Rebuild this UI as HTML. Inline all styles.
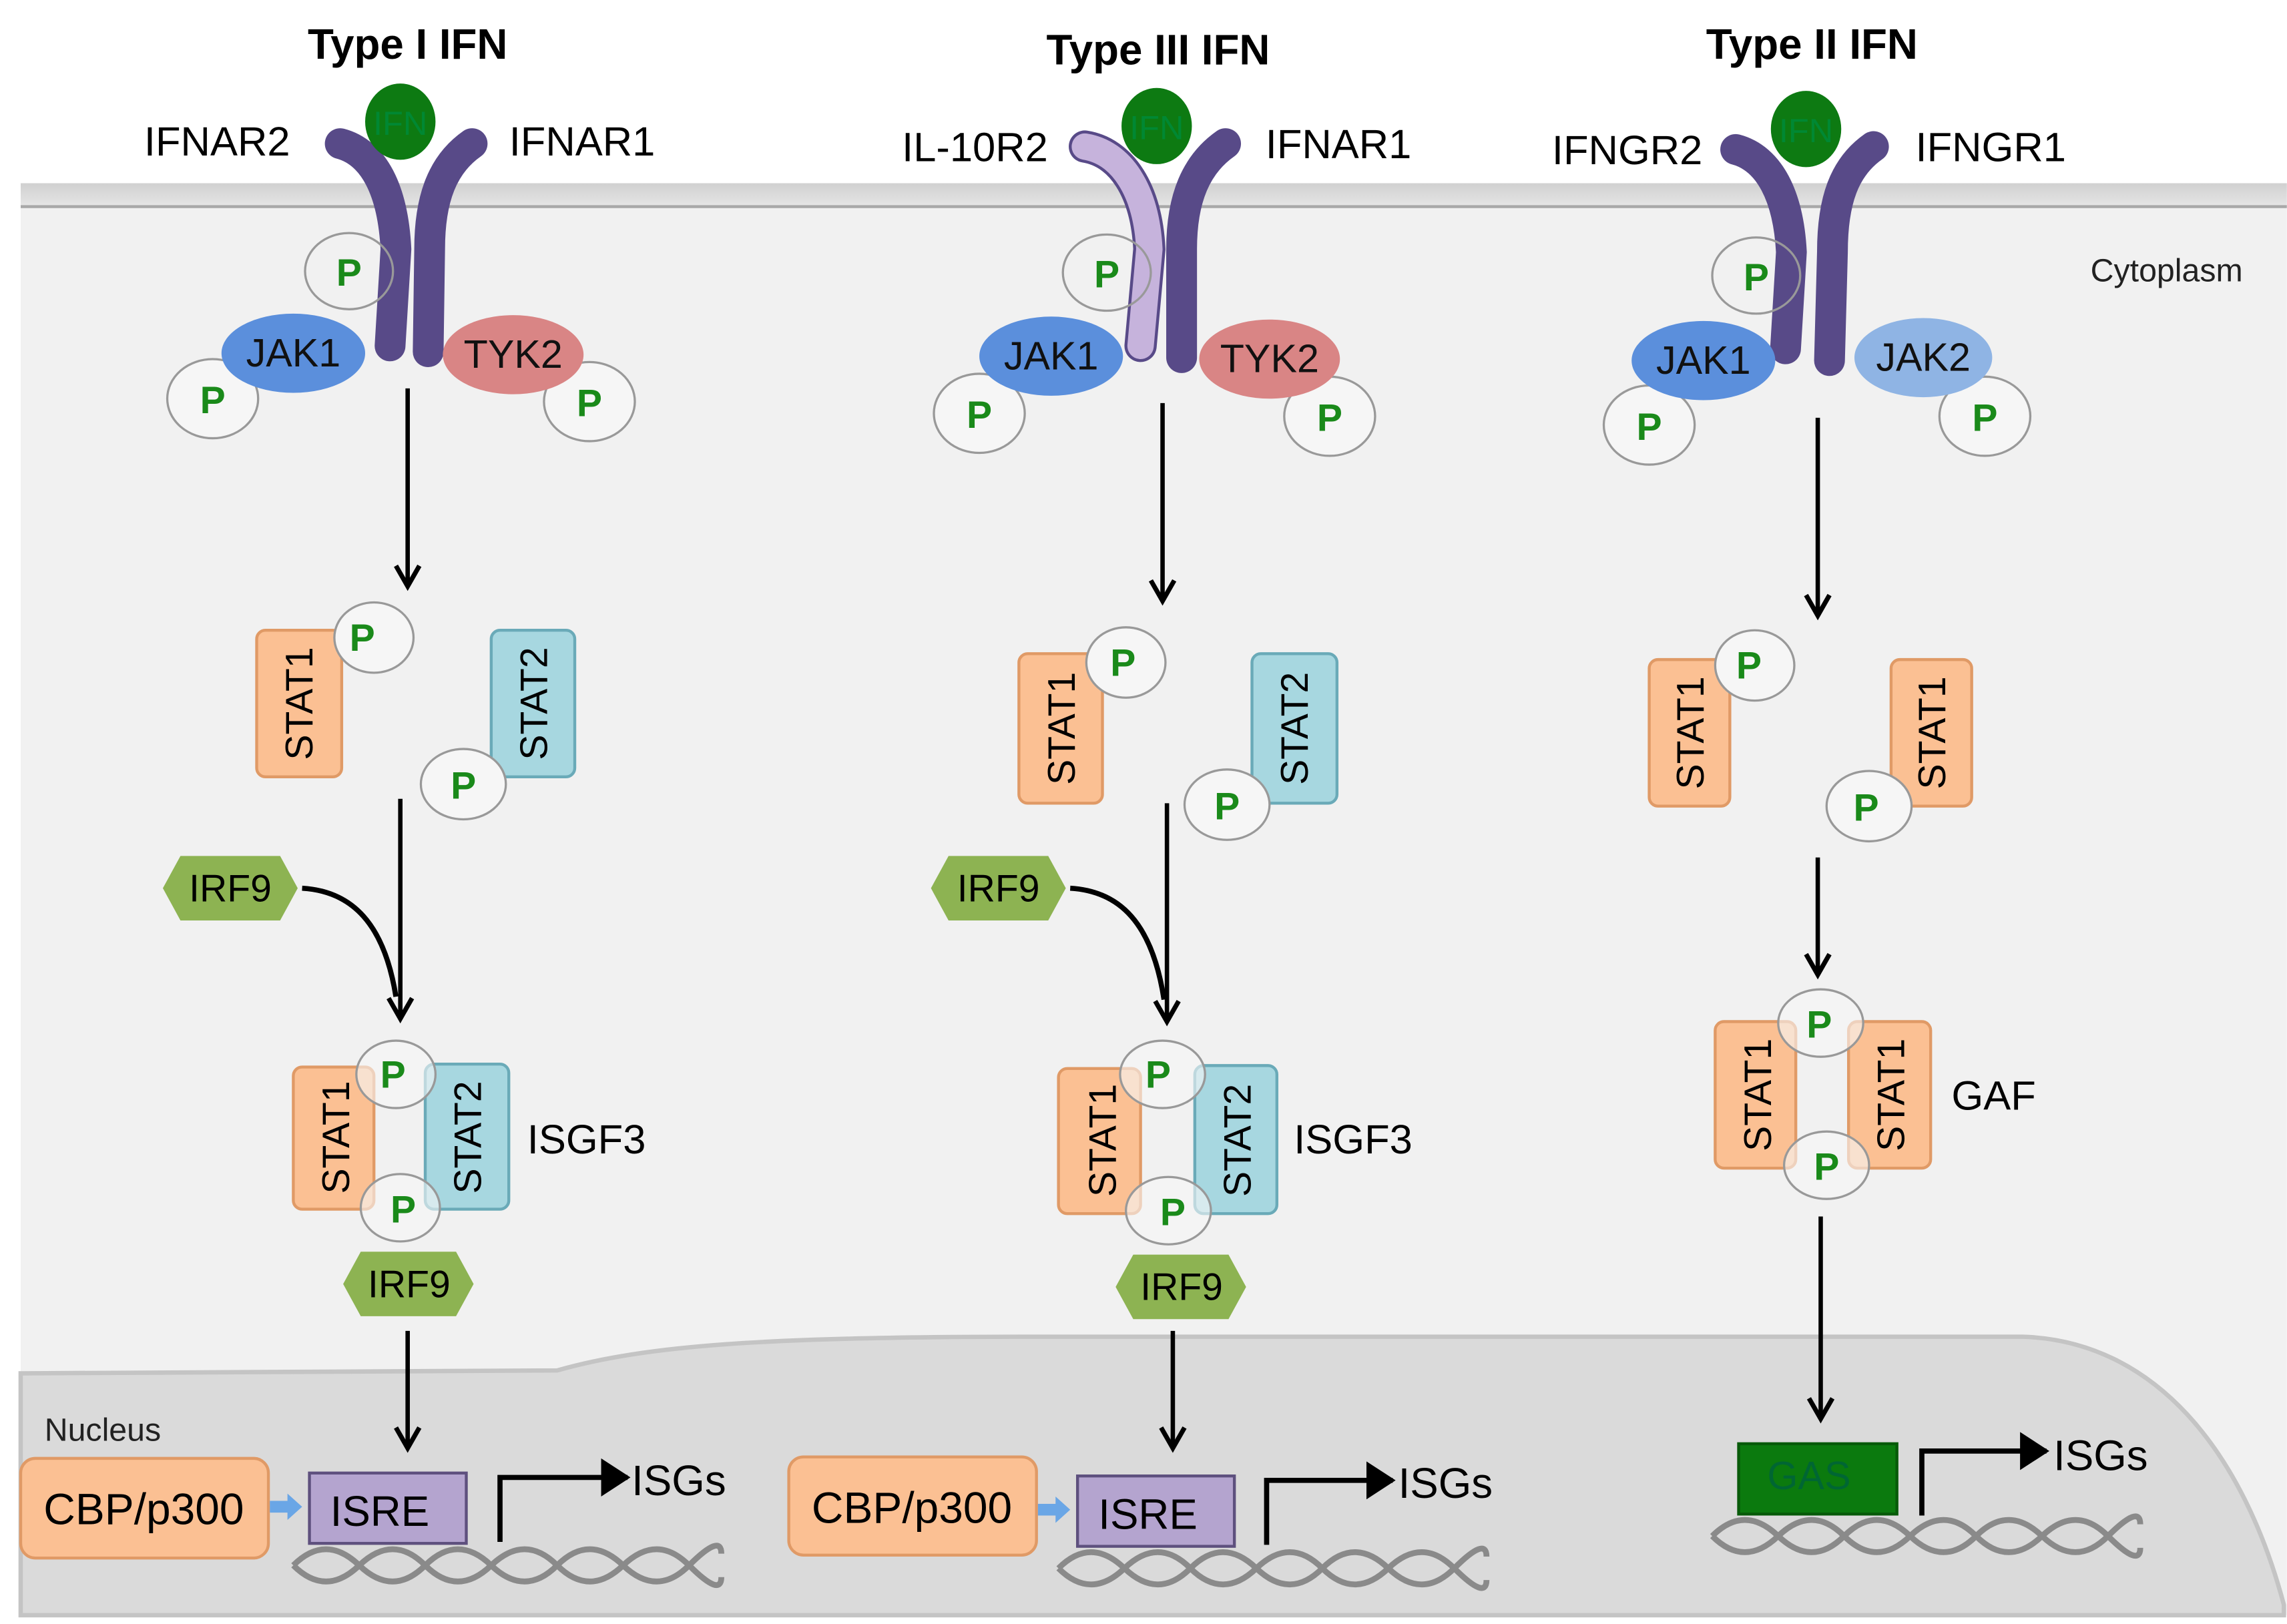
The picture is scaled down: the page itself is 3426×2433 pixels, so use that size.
<!DOCTYPE html>
<html><head><meta charset="utf-8"><style>
html,body{margin:0;padding:0;background:#fff;}
svg{display:block;}
text{font-family:"Liberation Sans",sans-serif;}
</style></head><body>
<svg width="3426" height="2433" viewBox="0 0 1560 1108" xmlns="http://www.w3.org/2000/svg">
<defs>
<linearGradient id="mem" x1="0" y1="0" x2="0" y2="1"><stop offset="0" stop-color="#d0d0d0"/><stop offset="1" stop-color="#e6e6e6"/></linearGradient>
<marker id="ah" markerWidth="20" markerHeight="20" refX="15" refY="10" orient="auto" markerUnits="userSpaceOnUse" viewBox="0 0 20 20"><path d="M1,2 L15,10 L1,18" fill="none" stroke="#000" stroke-width="3.2"/></marker>
<marker id="tri" markerWidth="20" markerHeight="26" refX="18" refY="13" orient="auto" markerUnits="userSpaceOnUse"><path d="M0,0 L20,13 L0,26 Z" fill="#000"/></marker>
</defs>
<rect width="1560" height="1108" fill="#fff"/>
<rect x="14" y="125" width="1546" height="977" fill="#f1f1f1"/>
<rect x="14" y="125" width="1546" height="16" fill="url(#mem)"/>
<line x1="14" y1="141" x2="1560" y2="141" stroke="#a8a8a8" stroke-width="2"/>
<path d="M14,937 L380,935 C440,918 520,912 700,912 L1380,912 C1470,915 1530,990 1558,1095 L1558,1102 L14,1102 Z" fill="#dadada" stroke="#c4c4c4" stroke-width="3"/>
<text x="1478" y="192" font-size="22" text-anchor="middle" fill="#222">Cytoplasm</text>
<text x="70" y="983" font-size="22" text-anchor="middle" fill="#222">Nucleus</text>

<!-- ===== Column 1 ===== -->
<text x="278" y="40" font-size="29" font-weight="bold" text-anchor="middle">Type I IFN</text>
<text x="148" y="106" font-size="28" text-anchor="middle">IFNAR2</text>
<text x="397" y="106" font-size="28" text-anchor="middle">IFNAR1</text>
<path d="M232,98 C255,104 268,130 270,170 L266,236" fill="none" stroke="#584a88" stroke-width="21" stroke-linecap="round"/>
<path d="M322,98 C302,112 293,135 293,170 L292,240" fill="none" stroke="#584a88" stroke-width="21" stroke-linecap="round"/>
<ellipse cx="273" cy="83" rx="24" ry="26" fill="#0d7a12"/><text x="273" y="92" font-size="23" text-anchor="middle" fill="#083">IFN</text>
<ellipse cx="238" cy="185" rx="30" ry="26" fill="none" stroke="#999" stroke-width="1.5"/><text x="238" y="195" font-size="26" font-weight="bold" text-anchor="middle" fill="#1a8a1a">P</text>
<ellipse cx="145" cy="272" rx="31" ry="27" fill="#f6f6f6" stroke="#999" stroke-width="1.5"/><text x="145" y="282" font-size="26" font-weight="bold" text-anchor="middle" fill="#1a8a1a">P</text>
<ellipse cx="402" cy="274" rx="31" ry="27" fill="#f6f6f6" stroke="#999" stroke-width="1.5"/><text x="402" y="284" font-size="26" font-weight="bold" text-anchor="middle" fill="#1a8a1a">P</text>
<ellipse cx="200" cy="241" rx="49" ry="27" fill="#5b8fdc"/><text x="200" y="250" font-size="27" text-anchor="middle" fill="#111">JAK1</text>
<ellipse cx="350" cy="242" rx="48" ry="27" fill="#d98585"/><text x="350" y="251" font-size="27" text-anchor="middle" fill="#111">TYK2</text>
<line x1="278" y1="265" x2="278" y2="400" stroke="#000" stroke-width="3" marker-end="url(#ah)"/>
<rect x="175" y="430" width="58" height="100" rx="6" fill="#fbc093" stroke="#e09a66" stroke-width="2"/><text transform="translate(213,480) rotate(-90)" font-size="26" text-anchor="middle">STAT1</text>
<ellipse cx="255" cy="435" rx="27" ry="24" fill="#f6f6f6" stroke="#999" stroke-width="1.5"/><text x="247" y="444" font-size="26" font-weight="bold" text-anchor="middle" fill="#1a8a1a">P</text>
<rect x="335" y="430" width="57" height="100" rx="6" fill="#a7d7e0" stroke="#6aaab8" stroke-width="2"/><text transform="translate(373,480) rotate(-90)" font-size="26" text-anchor="middle">STAT2</text>
<ellipse cx="316" cy="535" rx="29" ry="24" fill="#f6f6f6" stroke="#999" stroke-width="1.5"/><text x="316" y="545" font-size="26" font-weight="bold" text-anchor="middle" fill="#1a8a1a">P</text>
<line x1="273" y1="545" x2="273" y2="695" stroke="#000" stroke-width="3" marker-end="url(#ah)"/>
<path d="M206,606 C240,608 262,630 270,680" fill="none" stroke="#000" stroke-width="3.5"/>
<polygon points="111,606 123,584 191,584 203,606 191,628 123,628" fill="#8db352"/><text x="157" y="615" font-size="26" text-anchor="middle">IRF9</text>
<rect x="200" y="728" width="55" height="97" rx="6" fill="#fbc093" stroke="#e09a66" stroke-width="2"/><text transform="translate(238,776) rotate(-90)" font-size="26" text-anchor="middle">STAT1</text>
<rect x="290" y="726" width="57" height="99" rx="6" fill="#a7d7e0" stroke="#6aaab8" stroke-width="2"/><text transform="translate(328,776) rotate(-90)" font-size="26" text-anchor="middle">STAT2</text>
<ellipse cx="270" cy="733" rx="27" ry="23" fill="#f6f6f6" stroke="#999" stroke-width="1.5" fill-opacity="0.6"/><text x="268" y="742" font-size="26" font-weight="bold" text-anchor="middle" fill="#1a8a1a">P</text>
<ellipse cx="273" cy="824" rx="27" ry="23" fill="#f6f6f6" stroke="#999" stroke-width="1.5" fill-opacity="0.6"/><text x="275" y="834" font-size="26" font-weight="bold" text-anchor="middle" fill="#1a8a1a">P</text>
<text x="400" y="787" font-size="28" text-anchor="middle">ISGF3</text>
<polygon points="234,876 246,854 311,854 323,876 311,898 246,898" fill="#8db352"/><text x="279" y="885" font-size="26" text-anchor="middle">IRF9</text>
<line x1="278" y1="908" x2="278" y2="988" stroke="#000" stroke-width="3" marker-end="url(#ah)"/>
<rect x="14" y="995" width="169" height="68" rx="10" fill="#fbc093" stroke="#e09a66" stroke-width="2"/><text x="98" y="1040" font-size="30" text-anchor="middle">CBP/p300</text>
<path d="M184,1024 L196,1024 L196,1019 L206,1028 L196,1037 L196,1032 L184,1032 Z" fill="#6aa6e6"/>
<rect x="211" y="1005" width="107" height="48" fill="#b4a4cf" stroke="#5e507e" stroke-width="2"/><text x="259" y="1041" font-size="29" text-anchor="middle">ISRE</text>
<path d="M200,1068 q22,-22 45,0 t45,0 t45,0 t45,0 t45,0 t45,0 t22,-8" fill="none" stroke="#8a8a8a" stroke-width="4"/>
<path d="M200,1068 q22,22 45,0 t45,0 t45,0 t45,0 t45,0 t45,0 t22,8" fill="none" stroke="#8a8a8a" stroke-width="4"/>
<path d="M341,1052 L341,1008 L428,1008" fill="none" stroke="#000" stroke-width="3.5" marker-end="url(#tri)"/>
<text x="463" y="1020" font-size="29" text-anchor="middle">ISGs</text>

<!-- ===== Column 2 ===== -->
<text x="790" y="44" font-size="29" font-weight="bold" text-anchor="middle">Type III IFN</text>
<text x="665" y="110" font-size="28" text-anchor="middle">IL-10R2</text>
<text x="913" y="108" font-size="28" text-anchor="middle">IFNAR1</text>
<path d="M740,100 C765,104 782,130 784,170 L778,236" fill="none" stroke="#584a88" stroke-width="22" stroke-linecap="round"/>
<path d="M740,100 C765,104 782,130 784,170 L778,236" fill="none" stroke="#c6b3dc" stroke-width="18" stroke-linecap="round"/>
<path d="M836,98 C816,112 806,135 806,170 L806,244" fill="none" stroke="#584a88" stroke-width="21" stroke-linecap="round"/>
<ellipse cx="789" cy="86" rx="24" ry="26" fill="#0d7a12"/><text x="789" y="95" font-size="23" text-anchor="middle" fill="#083">IFN</text>
<ellipse cx="755" cy="186" rx="30" ry="26" fill="none" stroke="#999" stroke-width="1.5"/><text x="755" y="196" font-size="26" font-weight="bold" text-anchor="middle" fill="#1a8a1a">P</text>
<ellipse cx="668" cy="282" rx="31" ry="27" fill="#f6f6f6" stroke="#999" stroke-width="1.5"/><text x="668" y="292" font-size="26" font-weight="bold" text-anchor="middle" fill="#1a8a1a">P</text>
<ellipse cx="907" cy="284" rx="31" ry="27" fill="#f6f6f6" stroke="#999" stroke-width="1.5"/><text x="907" y="294" font-size="26" font-weight="bold" text-anchor="middle" fill="#1a8a1a">P</text>
<ellipse cx="717" cy="243" rx="49" ry="27" fill="#5b8fdc"/><text x="717" y="252" font-size="27" text-anchor="middle" fill="#111">JAK1</text>
<ellipse cx="866" cy="245" rx="48" ry="27" fill="#d98585"/><text x="866" y="254" font-size="27" text-anchor="middle" fill="#111">TYK2</text>
<line x1="793" y1="275" x2="793" y2="410" stroke="#000" stroke-width="3" marker-end="url(#ah)"/>
<rect x="695" y="446" width="57" height="102" rx="6" fill="#fbc093" stroke="#e09a66" stroke-width="2"/><text transform="translate(733,497) rotate(-90)" font-size="26" text-anchor="middle">STAT1</text>
<ellipse cx="768" cy="452" rx="27" ry="24" fill="#f6f6f6" stroke="#999" stroke-width="1.5"/><text x="766" y="461" font-size="26" font-weight="bold" text-anchor="middle" fill="#1a8a1a">P</text>
<rect x="854" y="446" width="58" height="102" rx="6" fill="#a7d7e0" stroke="#6aaab8" stroke-width="2"/><text transform="translate(892,497) rotate(-90)" font-size="26" text-anchor="middle">STAT2</text>
<ellipse cx="837" cy="549" rx="29" ry="24" fill="#f6f6f6" stroke="#999" stroke-width="1.5"/><text x="837" y="559" font-size="26" font-weight="bold" text-anchor="middle" fill="#1a8a1a">P</text>
<line x1="796" y1="548" x2="796" y2="697" stroke="#000" stroke-width="3" marker-end="url(#ah)"/>
<path d="M730,606 C764,608 786,630 794,682" fill="none" stroke="#000" stroke-width="3.5"/>
<polygon points="635,606 647,584 715,584 727,606 715,628 647,628" fill="#8db352"/><text x="681" y="615" font-size="26" text-anchor="middle">IRF9</text>
<rect x="722" y="729" width="56" height="99" rx="6" fill="#fbc093" stroke="#e09a66" stroke-width="2"/><text transform="translate(761,778) rotate(-90)" font-size="26" text-anchor="middle">STAT1</text>
<rect x="815" y="727" width="56" height="101" rx="6" fill="#a7d7e0" stroke="#6aaab8" stroke-width="2"/><text transform="translate(853,778) rotate(-90)" font-size="26" text-anchor="middle">STAT2</text>
<ellipse cx="793" cy="733" rx="29" ry="23" fill="#f6f6f6" stroke="#999" stroke-width="1.5" fill-opacity="0.6"/><text x="790" y="742" font-size="26" font-weight="bold" text-anchor="middle" fill="#1a8a1a">P</text>
<ellipse cx="797" cy="826" rx="29" ry="23" fill="#f6f6f6" stroke="#999" stroke-width="1.5" fill-opacity="0.6"/><text x="800" y="836" font-size="26" font-weight="bold" text-anchor="middle" fill="#1a8a1a">P</text>
<text x="923" y="787" font-size="28" text-anchor="middle">ISGF3</text>
<polygon points="761,878 773,856 838,856 850,878 838,900 773,900" fill="#8db352"/><text x="806" y="887" font-size="26" text-anchor="middle">IRF9</text>
<line x1="800" y1="908" x2="800" y2="988" stroke="#000" stroke-width="3" marker-end="url(#ah)"/>
<rect x="538" y="994" width="169" height="67" rx="10" fill="#fbc093" stroke="#e09a66" stroke-width="2"/><text x="622" y="1039" font-size="30" text-anchor="middle">CBP/p300</text>
<path d="M708,1026 L720,1026 L720,1021 L730,1030 L720,1039 L720,1034 L708,1034 Z" fill="#6aa6e6"/>
<rect x="735" y="1007" width="107" height="48" fill="#b4a4cf" stroke="#5e507e" stroke-width="2"/><text x="783" y="1043" font-size="29" text-anchor="middle">ISRE</text>
<path d="M722,1070 q22,-22 45,0 t45,0 t45,0 t45,0 t45,0 t45,0 t22,-8" fill="none" stroke="#8a8a8a" stroke-width="4"/>
<path d="M722,1070 q22,22 45,0 t45,0 t45,0 t45,0 t45,0 t45,0 t22,8" fill="none" stroke="#8a8a8a" stroke-width="4"/>
<path d="M864,1054 L864,1010 L950,1010" fill="none" stroke="#000" stroke-width="3.5" marker-end="url(#tri)"/>
<text x="986" y="1022" font-size="29" text-anchor="middle">ISGs</text>

<!-- ===== Column 3 ===== -->
<text x="1236" y="40" font-size="29" font-weight="bold" text-anchor="middle">Type II IFN</text>
<text x="1110" y="112" font-size="28" text-anchor="middle">IFNGR2</text>
<text x="1358" y="110" font-size="28" text-anchor="middle">IFNGR1</text>
<path d="M1184,102 C1207,108 1220,134 1222,172 L1218,238" fill="none" stroke="#584a88" stroke-width="21" stroke-linecap="round"/>
<path d="M1278,100 C1258,114 1250,137 1250,172 L1248,246" fill="none" stroke="#584a88" stroke-width="21" stroke-linecap="round"/>
<ellipse cx="1232" cy="88" rx="24" ry="26" fill="#0d7a12"/><text x="1232" y="97" font-size="23" text-anchor="middle" fill="#083">IFN</text>
<ellipse cx="1198" cy="188" rx="30" ry="26" fill="none" stroke="#999" stroke-width="1.5"/><text x="1198" y="198" font-size="26" font-weight="bold" text-anchor="middle" fill="#1a8a1a">P</text>
<ellipse cx="1125" cy="290" rx="31" ry="27" fill="#f6f6f6" stroke="#999" stroke-width="1.5"/><text x="1125" y="300" font-size="26" font-weight="bold" text-anchor="middle" fill="#1a8a1a">P</text>
<ellipse cx="1354" cy="284" rx="31" ry="27" fill="#f6f6f6" stroke="#999" stroke-width="1.5"/><text x="1354" y="294" font-size="26" font-weight="bold" text-anchor="middle" fill="#1a8a1a">P</text>
<ellipse cx="1162" cy="246" rx="49" ry="27" fill="#5b8fdc"/><text x="1162" y="255" font-size="27" text-anchor="middle" fill="#111">JAK1</text>
<ellipse cx="1312" cy="244" rx="47" ry="27" fill="#8fb4e4"/><text x="1312" y="253" font-size="27" text-anchor="middle" fill="#111">JAK2</text>
<line x1="1240" y1="285" x2="1240" y2="420" stroke="#000" stroke-width="3" marker-end="url(#ah)"/>
<rect x="1125" y="450" width="55" height="100" rx="6" fill="#fbc093" stroke="#e09a66" stroke-width="2"/><text transform="translate(1162,500) rotate(-90)" font-size="26" text-anchor="middle">STAT1</text>
<ellipse cx="1197" cy="454" rx="27" ry="24" fill="#f6f6f6" stroke="#999" stroke-width="1.5"/><text x="1193" y="463" font-size="26" font-weight="bold" text-anchor="middle" fill="#1a8a1a">P</text>
<rect x="1290" y="450" width="55" height="100" rx="6" fill="#fbc093" stroke="#e09a66" stroke-width="2"/><text transform="translate(1327,500) rotate(-90)" font-size="26" text-anchor="middle">STAT1</text>
<ellipse cx="1275" cy="550" rx="29" ry="24" fill="#f6f6f6" stroke="#999" stroke-width="1.5"/><text x="1273" y="560" font-size="26" font-weight="bold" text-anchor="middle" fill="#1a8a1a">P</text>
<line x1="1240" y1="585" x2="1240" y2="665" stroke="#000" stroke-width="3" marker-end="url(#ah)"/>
<rect x="1170" y="697" width="55" height="100" rx="6" fill="#fbc093" stroke="#e09a66" stroke-width="2"/><text transform="translate(1208,747) rotate(-90)" font-size="26" text-anchor="middle">STAT1</text>
<rect x="1261" y="697" width="56" height="100" rx="6" fill="#fbc093" stroke="#e09a66" stroke-width="2"/><text transform="translate(1299,747) rotate(-90)" font-size="26" text-anchor="middle">STAT1</text>
<ellipse cx="1242" cy="698" rx="29" ry="23" fill="#f6f6f6" stroke="#999" stroke-width="1.5" fill-opacity="0.6"/><text x="1241" y="708" font-size="26" font-weight="bold" text-anchor="middle" fill="#1a8a1a">P</text>
<ellipse cx="1246" cy="795" rx="29" ry="23" fill="#f6f6f6" stroke="#999" stroke-width="1.5" fill-opacity="0.6"/><text x="1246" y="805" font-size="26" font-weight="bold" text-anchor="middle" fill="#1a8a1a">P</text>
<text x="1360" y="757" font-size="28" text-anchor="middle">GAF</text>
<line x1="1242" y1="830" x2="1242" y2="968" stroke="#000" stroke-width="3" marker-end="url(#ah)"/>
<rect x="1186" y="985" width="108" height="48" fill="#0b7a0e" stroke="#075a09" stroke-width="2"/><text x="1234" y="1016" font-size="27" text-anchor="middle" fill="#063">GAS</text>
<path d="M1168,1048 q22,-22 45,0 t45,0 t45,0 t45,0 t45,0 t45,0 t22,-8" fill="none" stroke="#8a8a8a" stroke-width="4"/>
<path d="M1168,1048 q22,22 45,0 t45,0 t45,0 t45,0 t45,0 t45,0 t22,8" fill="none" stroke="#8a8a8a" stroke-width="4"/>
<path d="M1311,1034 L1311,990 L1396,990" fill="none" stroke="#000" stroke-width="3.5" marker-end="url(#tri)"/>
<text x="1433" y="1003" font-size="29" text-anchor="middle">ISGs</text>
</svg>
</body></html>
